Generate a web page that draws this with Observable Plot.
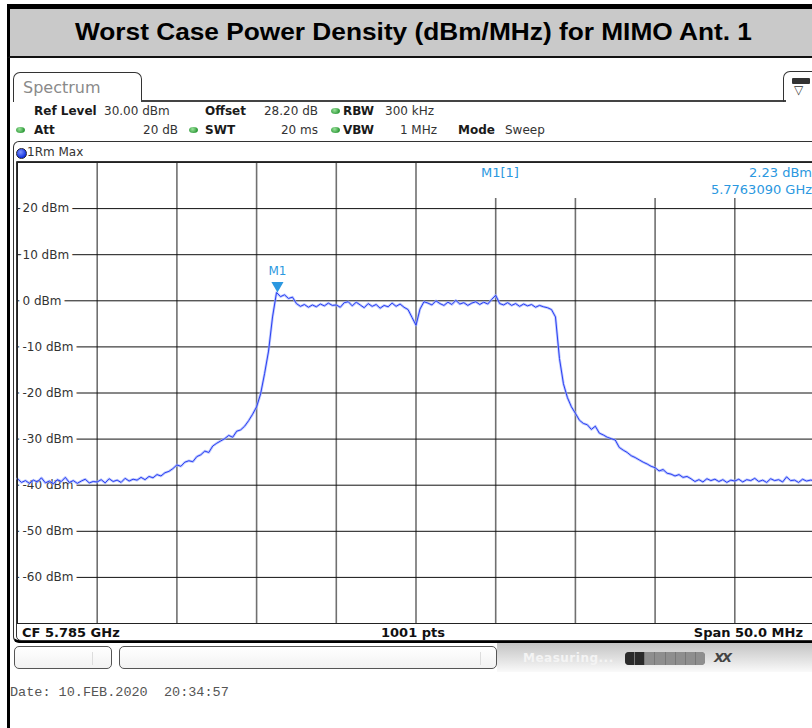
<!DOCTYPE html>
<html>
<head>
<meta charset="utf-8">
<script src="https://cdn.jsdelivr.net/npm/d3@7"></script>
<script src="https://cdn.jsdelivr.net/npm/@observablehq/plot@0.6"></script>
<style>
  body { margin: 0; background: #fff; }
  #page { position: relative; width: 812px; height: 728px; overflow: hidden; background: #fff; font-family: "DejaVu Sans", sans-serif; }
  .abs { position: absolute; white-space: nowrap; }
  .b { font-weight: bold; color: #1a1a1a; }
  .v { color: #333; }
  .row { font-size: 12px; line-height: 14px; }
  .dot { position: absolute; width: 9px; height: 6px; border-radius: 50%; background: radial-gradient(circle at 40% 35%, #9be39b, #2f9a3a 70%); }
</style>
</head>
<body>
<div id="page"></div>
<script>
// ---------------- data ----------------
const titleText = "Worst Case Power Density (dBm/MHz) for MIMO Ant. 1";
const startMHz = 5760;      // CF 5.785 GHz - span/2
const stepMHz = 0.25;
// trace 1 (Max hold), dBm, read every 0.25 MHz from 5760 to 5810 MHz
const levelDbm = [
  -38.6, -39.4, -39.0, -39.6, -38.9, -39.3, -38.4, -39.5, -39.1, -39.7, -38.8, -39.2, -38.3, -39.4, -39.0, -39.6, -39.1, -38.7, -39.5, -39.2,
  -39.3, -38.8, -39.5, -38.6, -39.2, -38.9, -39.4, -38.5, -39.1, -38.7, -38.9, -38.3, -38.8, -38.1, -38.4, -37.7, -38.0, -37.3, -37.0, -36.4,
  -35.6, -35.9, -35.0, -34.7, -34.9, -33.8, -33.4, -32.6, -32.9, -31.5, -30.9, -30.4, -29.9, -29.2, -29.6, -28.3, -28.0, -27.2, -26.0, -24.6,
  -23.0, -20.2, -15.8, -10.9, -3.5, 1.8, 0.9, 1.3, 0.5, 0.8, -0.6, -1.2, -0.8, -1.4, -0.9, -1.3, -0.7, -1.1, -0.5, -1.0,
  -0.9, -1.4, -0.4, -0.2, -1.1, -0.3, -0.9, -1.5, -0.6, -1.2, -0.8, -1.6, -1.0, -1.3, -0.5, -1.2, -0.7, -1.4, -1.9, -3.6,
  -5.3, -1.8, -0.2, -0.5, -0.9, 0.0, -0.6, -1.0, -0.3, -0.8, 0.1, -0.7, -0.4, -1.0, -0.5, -0.2, -0.8, -0.3, -0.7, 0.3,
  1.2, -0.6, -0.9, -0.4, -1.0, -0.6, -1.2, -0.7, -1.1, -0.8, -1.4, -1.0, -1.3, -1.5, -1.9, -3.5, -12.5, -18.0, -21.0, -23.0,
  -24.4, -25.9, -26.6, -26.9, -27.9, -27.2, -28.7, -29.1, -29.6, -29.9, -30.2, -31.8, -32.4, -32.9, -33.6, -34.0, -34.5, -35.0, -35.4, -35.9,
  -36.2, -36.9, -36.6, -37.4, -37.6, -38.0, -37.7, -38.3, -38.1, -38.6, -39.2, -38.8, -39.3, -38.6, -39.0, -38.7, -39.2, -38.8, -39.4, -38.9,
  -39.1, -38.7, -39.3, -38.8, -39.0, -38.5, -39.2, -38.9, -39.4, -38.6, -39.0, -38.8, -39.3, -38.2, -39.0, -38.9, -39.4, -38.7, -39.1, -38.9,
  -39.0
];
const yTicks = [20, 10, 0, -10, -20, -30, -40, -50, -60];
const xGridMHz = [5765, 5770, 5775, 5780, 5785, 5790, 5795, 5800, 5805];
const xDomain = [5760, 5810];
const yDomain = [-70, 30];
const markerNames = ["M1"];
const markerFreqMHz = [5776.309];
const markerLevelDbm = [2.23];
const bottomLabels = ["CF 5.785 GHz", "1001 pts", "Span 50.0 MHz"];
const dateText = "Date: 10.FEB.2020  20:34:57";

// ---------------- page ----------------
const page = document.getElementById("page");
function el(html, style) {
  const d = document.createElement("div");
  d.className = "abs";
  d.innerHTML = html;
  Object.assign(d.style, style);
  page.appendChild(d);
  return d;
}

// outer frame + title band
el("", {left: "7px", top: "4px", width: "3px", height: "724px", background: "#000"});
el("", {left: "7px", top: "4px", width: "820px", height: "54px", boxSizing: "border-box",
  borderTop: "5px solid #000", borderLeft: "3px solid #000", borderBottom: "2px solid #111", background: "#c9c9c9"});
const titleWrap = el("", {left: "10px", top: "9px", width: "806px", height: "47px", display: "flex",
  alignItems: "center", justifyContent: "center"});
const titleSpan = document.createElement("span");
titleSpan.textContent = titleText;
Object.assign(titleSpan.style, {font: "bold 23px 'Liberation Sans', Arial, sans-serif", color: "#000", display: "inline-block", whiteSpace: "nowrap"});
titleWrap.appendChild(titleSpan);

// Spectrum tab
el("Spectrum", {left: "13px", top: "72px", width: "129px", height: "30px", boxSizing: "border-box",
  border: "1.5px solid #333", borderBottom: "none", borderRadius: "7px 7px 0 0", color: "#8a8a8a",
  fontSize: "16px", paddingLeft: "9px", lineHeight: "30px"});
el("", {left: "141px", top: "100px", width: "645px", height: "2px", background: "#444"});
el("<div style='margin:6px auto 0 8px;width:18px;height:6px;background:#333;border-radius:1px'></div><div style='font-size:12px;line-height:12px;margin-left:10px;color:#333'>▽</div>",
  {left: "783px", top: "71px", width: "40px", height: "31px", boxSizing: "border-box",
   border: "1.5px solid #333", borderBottom: "none", borderRadius: "7px 0 0 0"});

// settings rows
el("Ref Level", {left: "34px", top: "104px"}).className += " row b";
el("30.00 dBm", {left: "104px", top: "104px"}).className += " row v";
el("Offset", {left: "205px", top: "104px"}).className += " row b";
el("28.20 dB", {right: (812 - 318) + "px", top: "104px"}).className += " row v";
el("RBW", {left: "343px", top: "104px"}).className += " row b";
el("300 kHz", {left: "385px", top: "104px"}).className += " row v";
el("Att", {left: "34px", top: "123px"}).className += " row b";
el("20 dB", {right: (812 - 178) + "px", top: "123px"}).className += " row v";
el("SWT", {left: "205px", top: "123px"}).className += " row b";
el("20 ms", {right: (812 - 318) + "px", top: "123px"}).className += " row v";
el("VBW", {left: "343px", top: "123px"}).className += " row b";
el("1 MHz", {right: (812 - 437) + "px", top: "123px"}).className += " row v";
el("Mode", {left: "458px", top: "123px"}).className += " row b";
el("Sweep", {left: "505px", top: "123px"}).className += " row v";
[[331, 108], [16, 127], [189, 127], [331, 127]].forEach(([x, y]) => {
  const d = document.createElement("div"); d.className = "dot";
  d.style.left = x + "px"; d.style.top = y + "px"; page.appendChild(d);
});

// instrument boxes
el("", {left: "13px", top: "141px", width: "830px", height: "502px", boxSizing: "border-box",
  border: "1.5px solid #333", borderBottom: "3px solid #000", borderRadius: "6px"});
el("", {left: "16px", top: "161px", width: "830px", height: "480px", boxSizing: "border-box",
  border: "1px solid #333", borderRadius: "0 0 0 5px"});
el("", {left: "16px", top: "148px", width: "9px", height: "9px", borderRadius: "50%",
  background: "radial-gradient(circle at 40% 35%, #7f95ff, #1030e0 70%)", border: "0.5px solid #223"});
el("1Rm Max", {left: "27px", top: "145px", fontSize: "12px", color: "#333", lineHeight: "14px"});

// ---------------- chart ----------------
const trace = levelDbm.map((v, i) => ({f: startMHz + i * stepMHz, v}));
const markers = markerNames.map((n, i) => ({name: n, f: markerFreqMHz[i], v: markerLevelDbm[i]}));
const markerBlue = "#2b98e0";

const chart = Plot.plot({
  width: 816,
  height: 463,
  marginTop: 1,
  marginBottom: 1,
  marginLeft: 17,
  marginRight: 2,
  x: {domain: xDomain, axis: null},
  y: {domain: yDomain, axis: null},
  style: {position: "absolute", left: "0px", top: "161px", background: "transparent", overflow: "visible", maxWidth: "none"},
  marks: [
    Plot.ruleX(xGridMHz, {stroke: "#707070", strokeWidth: 1.6}),
    Plot.ruleY(yTicks, {stroke: "#111", strokeWidth: 1}),
    Plot.text(yTicks, {y: d => d, text: d => `${d} dBm`, frameAnchor: "left", dx: 5, textAnchor: "start",
      fill: "#333", stroke: "white", strokeWidth: 8, fontSize: 12, fontFamily: "DejaVu Sans"}),
    Plot.line(trace, {x: "f", y: "v", stroke: "#9fb0ff", strokeWidth: 2.6, strokeOpacity: 0.7}),
    Plot.line(trace, {x: "f", y: "v", stroke: "#2a3ef2", strokeWidth: 1}),
    Plot.dot(markers, {x: "f", y: "v", symbol: "triangle", r: 4.5, fill: markerBlue, stroke: "none", rotate: 180, dy: -5}),
    Plot.text(markers, {x: "f", y: "v", text: "name", dy: -19, fill: markerBlue, fontSize: 12, fontFamily: "DejaVu Sans"}),
    Plot.frame({stroke: "#222", strokeWidth: 1})
  ]
});
page.appendChild(chart);

// marker readout (white area above the right grid columns)
el("", {left: "478px", top: "163px", width: "340px", height: "35px", background: "#fff"});
el(`${markerNames[0]}[1]`, {left: "481px", top: "165px", fontSize: "13px", color: markerBlue, lineHeight: "15px"});
el(`${markerLevelDbm[0].toFixed(2)} dBm`, {right: "0px", top: "165px", fontSize: "13px", color: markerBlue, lineHeight: "15px"});
el(`${(markerFreqMHz[0] / 1000).toFixed(7)} GHz`, {right: "0px", top: "182px", fontSize: "13px", color: markerBlue, lineHeight: "15px"});

// bottom info bar
el(bottomLabels[0], {left: "22px", top: "625px", fontSize: "13px", fontWeight: "bold", color: "#111", lineHeight: "15px"});
el(bottomLabels[1], {left: "413px", top: "625px", fontSize: "13px", fontWeight: "bold", color: "#111", lineHeight: "15px", transform: "translateX(-50%)"});
el(bottomLabels[2], {right: (812 - 803) + "px", top: "625px", fontSize: "13px", fontWeight: "bold", color: "#111", lineHeight: "15px"});

// status bar
el("", {left: "497px", top: "643px", width: "320px", height: "29px",
  background: "linear-gradient(#c4c4c4, #e9e9e9 70%, #fafafa)"});
el("<div style='position:absolute;left:77px;top:5px;width:1px;height:13px;background:#ddd'></div>",
  {left: "14px", top: "646px", width: "98px", height: "23px", boxSizing: "border-box",
   border: "1px solid #555", borderRadius: "5px", background: "linear-gradient(#fff,#f2f2f2)"});
el("<div style='position:absolute;left:360px;top:5px;width:1px;height:13px;background:#ddd'></div>",
  {left: "119px", top: "646px", width: "378px", height: "23px", boxSizing: "border-box",
   border: "1px solid #555", borderRadius: "5px", background: "linear-gradient(#fff,#f2f2f2)"});
el("Measuring...", {left: "523px", top: "651px", fontSize: "12px", fontWeight: "bold", color: "#f4f4f4", lineHeight: "14px", letterSpacing: "0.5px"});
const prog = el("", {left: "625px", top: "652px", width: "80px", height: "13px", borderRadius: "4px", overflow: "hidden", display: "flex", gap: "1px", background: "#777"});
for (let i = 0; i < 8; i++) {
  const s = document.createElement("div");
  s.style.flex = "1";
  s.style.background = i < 2 ? "#2a2a2a" : "#8e8e8e";
  prog.appendChild(s);
}
el("<i>XX</i>", {left: "714px", top: "650px", fontSize: "13px", fontWeight: "bold", color: "#444", lineHeight: "15px", letterSpacing: "-2px"});

// date stamp
el(dateText, {left: "10px", top: "685px", fontSize: "13.5px", fontFamily: "'Liberation Mono', 'Courier New', monospace", color: "#555", lineHeight: "16px", whiteSpace: "pre"});

// fit the title width to the band
const tw = titleSpan.getBoundingClientRect().width;
if (tw > 0) titleSpan.style.transform = `scaleX(${677 / tw})`;
</script>
</body>
</html>
